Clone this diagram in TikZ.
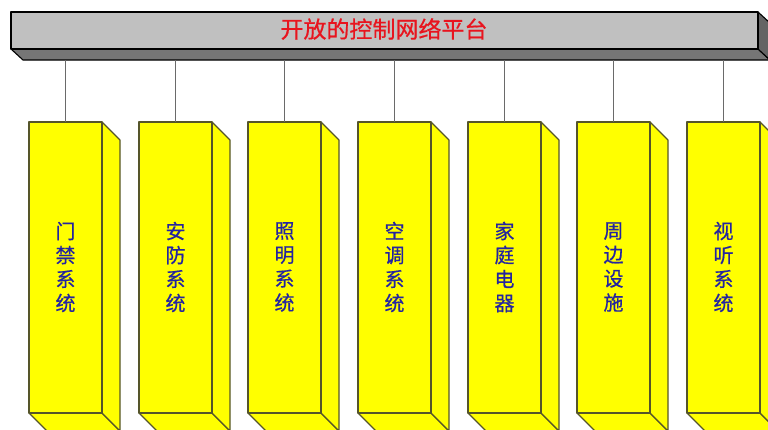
\documentclass[tikz,border=0pt]{standalone}
\usepackage{fontspec}
\setmainfont{Noto Sans CJK SC}
\newfontfamily\cjk[FakeBold=0.6]{Noto Sans CJK SC}
\definecolor{barfront}{HTML}{C0C0C0}
\definecolor{barbottom}{HTML}{767676}
\definecolor{boxyellow}{HTML}{FFFF00}
\definecolor{boxedge}{HTML}{55552A}
\definecolor{labelblue}{HTML}{2424A0}
\definecolor{titlered}{HTML}{E8141E}
\definecolor{linkgray}{HTML}{6A6A6A}
\tikzset{
  barface/.style={draw=black, line width=1.1pt, line join=round},
  boxface/.style={draw=boxedge, line width=1.1pt, fill=boxyellow, line join=round},
  sidelabel/.style={text=labelblue, font=\cjk\fontsize{20}{24}\selectfont, align=center, inner sep=0pt},
  link/.style={draw=linkgray, line width=1.2pt}
}
\begin{document}
\begin{tikzpicture}[x=1pt,y=-1pt]
\useasboundingbox (0,0) rectangle (768,429);
\clip (0,0) rectangle (768,429);
% platform bar
\fill[white] (0,0) rectangle (768,429);
\draw[barface, fill=barbottom] (11,49) -- (758,49) -- (770,60) -- (23,60) -- cycle;
\draw[barface, fill=barbottom!85!black] (758,12) -- (770,23) -- (770,60) -- (758,49) -- cycle;
\draw[barface, fill=barfront] (11,12) rectangle (758,49);
\node[text=titlered, font=\cjk\fontsize{23}{24}\selectfont, inner sep=0pt] (title) at (384,29) {开放的控制网络平台};
\coordinate (barbot) at (384,60);
% boxes
\foreach \x/\name/\txt in {29/b1/{门\\禁\\系\\统},139/b2/{安\\防\\系\\统},248/b3/{照\\明\\系\\统},358/b4/{空\\调\\系\\统},468/b5/{家\\庭\\电\\器},577/b6/{周\\边\\设\\施},687/b7/{视\\听\\系\\统}}{
  \draw[boxface] (\x,413) -- (\x+73,413) -- (\x+91,431) -- (\x+18,431) -- cycle;
  \draw[boxface] (\x+73,122) -- (\x+91,140) -- (\x+91,431) -- (\x+73,413) -- cycle;
  \draw[boxface] (\x,122) rectangle (\x+73,413);
  \coordinate (\name top) at (\x+36.5,122);
  \coordinate (\name link) at (\x+36.5,60);
  \node[sidelabel] (\name) at (\x+36.5,267) {\txt};
  \draw[link] (\name link) -- (\name top);
}
\end{tikzpicture}
\end{document}
